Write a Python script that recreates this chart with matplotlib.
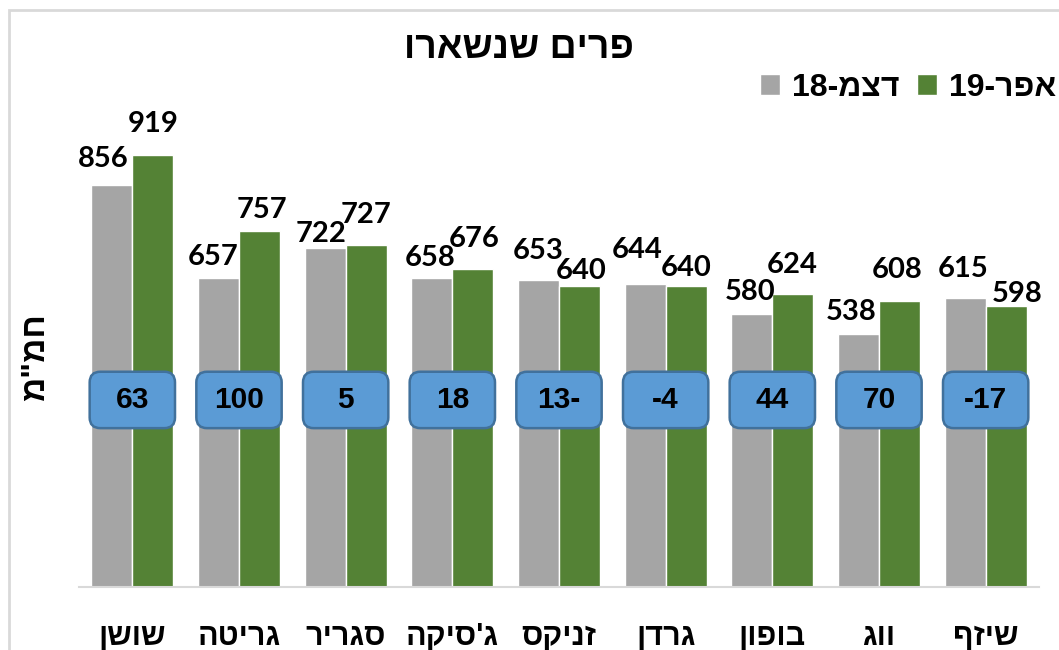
import matplotlib
matplotlib.use("Agg")
import matplotlib.pyplot as plt
from matplotlib.patches import FancyBboxPatch, Rectangle
import numpy as np
import re

categories = ["שושן", "גריטה", "סגריר", "ג'סיקה", "זניקס", "גרדן", "בופון", "ווג", "שיזף"]
dec18 = [856, 657, 722, 658, 653, 644, 580, 538, 615]
apr19 = [919, 757, 727, 676, 640, 640, 624, 608, 598]
diff_labels = ["63", "100", "5", "18", "13-", "-4", "44", "70", "-17"]
series_names = ["דצמ-18", "אפר-19"]
title = "פרים שנשארו"
ylabel = 'חמ"מ'

# label nudges (pixels: dx, dy of digit centre above bar top), as placed in the original
dec_nudge = [(-9, 28), (-5, 23), (-4, 16), (-2, 22), (0, 31), (-8, 36), (-2, 24), (-7, 24), (-2, 31)]
apr_nudge = [(0, 33), (2, 23), (0, 32), (1, 32), (2, 17), (0, 20), (-1, 31), (-2, 33), (11, 14)]

GRAY = "#A5A5A5"
GREEN = "#548235"
BOX_FILL = "#5B9BD5"
BOX_EDGE = "#41719C"
HEB = ["Liberation Sans", "DejaVu Sans"]
NUM = ["Lato", "DejaVu Sans"]


def visual(s):
    """Minimal RTL reordering for display (Hebrew runs reversed, digit runs kept)."""
    tokens = re.findall(r"\d+|\D+", s)
    out = []
    for t in reversed(tokens):
        out.append(t if t.isdigit() else t[::-1])
    return "".join(out)


W, H = 1059, 650
fig = plt.figure(figsize=(W / 100, H / 100), dpi=100)

left, right = 79 / W, 1039 / W
bottom = 1 - 587 / H
ymax = 1000
ax_h_px = 470
ax = fig.add_axes([left, bottom, right - left, ax_h_px / H])

n = len(categories)
x = np.arange(n)
bw = 0.385
ax.bar(x - bw / 2, dec18, width=bw, color=GRAY, edgecolor="white", linewidth=1, zorder=2,
       label=visual(series_names[0]))
ax.bar(x + bw / 2, apr19, width=bw, color=GREEN, edgecolor="white", linewidth=1, zorder=2,
       label=visual(series_names[1]))

ax.set_xlim(-0.5, n - 0.5)
ax.set_ylim(0, ymax)

digit_half = 10  # half digit height in px
for xs, vals, nudges in ((x - bw / 2, dec18, dec_nudge), (x + bw / 2, apr19, apr_nudge)):
    for xi, v, (dx, dy) in zip(xs, vals, nudges):
        ax.annotate(str(v), (xi, v), xytext=(dx, dy - digit_half), textcoords="offset pixels",
                    ha="center", va="baseline", fontsize=21, fontweight="bold",
                    family=NUM, color="black", zorder=5)

# difference boxes
ax_w_px = (right - left) * W
asp = (ymax / ax_h_px) / (n / ax_w_px)
box_w, box_h, box_y = 0.8, 120, 398
for xi, lab in zip(x, diff_labels):
    p = FancyBboxPatch((xi - box_w / 2, box_y - box_h / 2), box_w, box_h,
                       boxstyle="round,pad=0,rounding_size=0.1", mutation_aspect=asp,
                       facecolor=BOX_FILL, edgecolor=BOX_EDGE, linewidth=1.8, zorder=4)
    ax.add_patch(p)
    ax.text(xi, box_y, lab, ha="center", va="center", fontsize=21.5, fontweight="bold",
            family=HEB, color="black", zorder=6)

ax.set_xticks(x)
ax.set_xticklabels([visual(c) for c in categories], fontsize=22, fontweight="bold", family=HEB)
ax.tick_params(axis="x", length=0, pad=25)
ax.set_yticks([])
for s in ("top", "right", "left"):
    ax.spines[s].set_visible(False)
ax.spines["bottom"].set_color("#D9D9D9")
ax.spines["bottom"].set_linewidth(1.5)

fig.text(519 / W, 1 - 48 / H, visual(title), ha="center", va="center", fontsize=27,
         fontweight="bold", family=HEB)
fig.text(36 / W, 1 - 357 / H, visual(ylabel), ha="center", va="center", rotation=90,
         fontsize=24, fontweight="bold", family=HEB)

leg = fig.legend(loc="center left", bbox_to_anchor=(760 / W, 1 - 88 / H), ncol=2, frameon=False,
                 prop={"family": HEB, "weight": "bold", "size": 23},
                 handlelength=0.62, handleheight=0.62, handletextpad=0.37, columnspacing=0.56,
                 borderpad=0, borderaxespad=0)

fig.add_artist(Rectangle((9 / W, -0.1), 1.2, (H - 10) / H + 0.1, transform=fig.transFigure,
                         fill=False, edgecolor="#D9D9D9", linewidth=2))

fig.savefig("out.png", dpi=100)
